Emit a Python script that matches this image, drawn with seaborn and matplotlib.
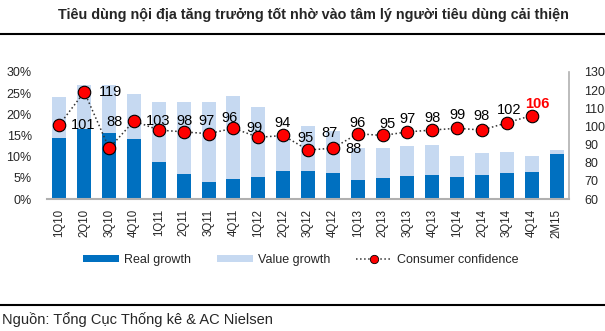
import numpy as np
import pandas as pd
import matplotlib
matplotlib.use("Agg")
import matplotlib.pyplot as plt
import seaborn as sns
from matplotlib.patches import Patch
from matplotlib.lines import Line2D
from matplotlib.ticker import FuncFormatter

categories = ["1Q10", "2Q10", "3Q10", "4Q10", "1Q11", "2Q11", "3Q11", "4Q11",
              "1Q12", "2Q12", "3Q12", "4Q12", "1Q13", "2Q13", "3Q13", "4Q13",
              "1Q14", "2Q14", "3Q14", "4Q14", "2M15"]
real_growth = [14.5, 16.5, 15.5, 14.1, 8.8, 5.8, 3.9, 4.8, 5.1, 6.6, 6.7, 6.2,
               4.6, 5.0, 5.4, 5.7, 5.1, 5.7, 6.2, 6.3, 10.7]
value_growth = [24.2, 26.9, 26.9, 24.7, 22.8, 22.8, 22.9, 24.3, 21.8, 15.2, 17.3, 16.1,
                12.0, 12.0, 12.5, 12.7, 10.2, 10.8, 11.1, 10.2, 11.5]
confidence = [101, 119, 88, 103, 98, 97, 96, 99, 94, 95, 87, 88,
              96, 95, 97, 98, 99, 98, 102, 106]
left_ticks = [0, 5, 10, 15, 20, 25, 30]
right_ticks = [60, 70, 80, 90, 100, 110, 120, 130]

# label offsets (pixels) for data labels
label_dx = [24, 26, 5, 24, 26, 23, 21, 21, 24, 22, 21, 21, 0, 5, 0, 0, 0, 0, 2, 6]
label_dy = [0, 0, 26, 0, 9, 11, 16, 0, 14, -3, 17, -1, 11, 12, 13, 12, 13, 14, 13, 12]

DARK = "#0070C0"
LIGHT = "#C6D9F1"

sns.set_theme(style="white")
plt.rcParams["font.family"] = ["Liberation Sans", "DejaVu Sans"]

fig = plt.figure(figsize=(6.05, 3.31), dpi=100)
ax = fig.add_axes([47 / 605, 1 - 199 / 331, (569 - 47) / 605, (199 - 72) / 331])

df = pd.DataFrame({"cat": categories, "real": real_growth, "value": value_growth})
sns.barplot(data=df, x="cat", y="value", color=LIGHT, width=0.56, ax=ax,
            saturation=1, edgecolor="none")
sns.barplot(data=df, x="cat", y="real", color=DARK, width=0.56, ax=ax,
            saturation=1, edgecolor="none")
ax.set_xlim(-0.5, len(categories) - 0.5)
ax.set_ylim(0, 30)
ax.set_yticks(left_ticks)
ax.yaxis.set_major_formatter(FuncFormatter(lambda v, p: f"{int(v)}%"))
ax.set_xlabel("")
ax.set_ylabel("")
ax.tick_params(axis="x", rotation=90, labelsize=8.3, length=0, pad=7)
ax.tick_params(axis="y", labelsize=9, length=0, pad=11)
for s in ["top", "right", "left"]:
    ax.spines[s].set_visible(False)
ax.spines["bottom"].set_color("#B0B0B0")
ax.spines["bottom"].set_linewidth(1.5)

ax2 = ax.twinx()
cdf = pd.DataFrame({"x": np.arange(len(confidence)), "c": confidence})
sns.lineplot(data=cdf, x="x", y="c", ax=ax2, color="#333333", linestyle=":",
             linewidth=1.1, marker="o", markersize=9, markerfacecolor="#FF0000",
             markeredgecolor="black", markeredgewidth=0.8)
ax2.set_ylim(60, 130)
ax2.set_yticks(right_ticks)
ax2.set_xlim(-0.5, len(categories) - 0.5)
ax2.set_xlabel("")
ax2.set_ylabel("")
ax2.tick_params(axis="y", labelsize=9, length=0, pad=11)
for s in ["top", "left", "bottom"]:
    ax2.spines[s].set_visible(False)
ax2.spines["right"].set_color("#B0B0B0")
ax2.spines["right"].set_linewidth(1.2)

for i, v in enumerate(confidence):
    last = i == len(confidence) - 1
    ax2.annotate(str(v), (i, v), xytext=(label_dx[i], label_dy[i]),
                 textcoords="offset pixels", ha="center", va="center",
                 fontsize=10.5,
                 color="#FF0000" if last else "black",
                 fontweight="bold" if last else "normal")

handles = [Patch(facecolor=DARK, edgecolor="none"),
           Patch(facecolor=LIGHT, edgecolor="none"),
           Line2D([0], [0], color="#333333", linestyle=":", linewidth=1.1,
                  marker="o", markersize=6, markerfacecolor="#FF0000",
                  markeredgecolor="black", markeredgewidth=0.6)]
fig.legend(handles, ["Real growth", "Value growth", "Consumer confidence"],
           loc="center", bbox_to_anchor=(0.497, 1 - 260 / 331), ncol=3,
           frameon=False, fontsize=9, handlelength=2.9, handleheight=0.55,
           columnspacing=2.1, handletextpad=0.35)

fig.text(313 / 605, 1 - 15 / 331, "Tiêu dùng nội địa tăng trưởng tốt nhờ vào tâm lý người tiêu dùng cải thiện",
         ha="center", va="center", fontsize=10.4, fontweight="bold")
fig.add_artist(Line2D([0, 1], [1 - 34 / 331, 1 - 34 / 331], color="black",
                      linewidth=1.5, transform=fig.transFigure))
fig.add_artist(Line2D([0, 1], [1 - 305 / 331, 1 - 305 / 331], color="black",
                      linewidth=1.5, transform=fig.transFigure))
fig.text(0.003, 1 - 320 / 331, "Nguồn: Tổng Cục Thống kê & AC Nielsen",
         ha="left", va="center", fontsize=10.5)

fig.savefig("out.png", dpi=100)
